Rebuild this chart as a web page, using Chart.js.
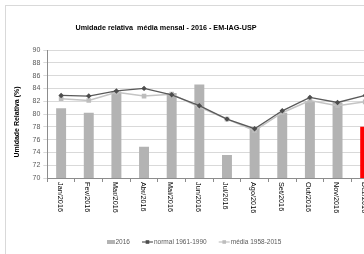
<!DOCTYPE html>
<html lang="pt">
<head>
    <meta charset="UTF-8">
    <title>Umidade relativa</title>
    <script src="https://cdn.jsdelivr.net/npm/chart.js"></script>
    <style>
        body {
            margin: 0;
            overflow: hidden;
            background: #fff;
        }
    </style>
</head>
<body>
    <canvas id="grafico" width="389" height="254"></canvas>

    <script>
        // dados
        const meses = ['Jan/2016', 'Fev/2016', 'Mar/2016', 'Abr/2016', 'Mai/2016', 'Jun/2016',
                       'Jul/2016', 'Ago/2016', 'Set/2016', 'Out/2016', 'Nov/2016', 'Dez/2016'];
        const umidade2016 = [80.9, 80.2, 83.5, 74.9, 83.3, 84.6, 73.6, 77.8, 80.2, 82.0, 81.8, 78.0];
        const normal6190 = [82.9, 82.8, 83.6, 84.0, 83.0, 81.3, 79.2, 77.7, 80.5, 82.6, 81.8, 82.9];
        const media5815 = [82.4, 82.1, 83.4, 82.8, 83.1, 81.1, 79.2, 77.4, 80.2, 82.1, 81.3, 81.9];
        const yTicks = [70, 72, 74, 76, 78, 80, 82, 84, 86, 88, 90];

        const titulo = 'Umidade relativa  média mensal - 2016 - EM-IAG-USP';
        const tituloY = 'Umidade Relativa (%)';
        const fonte = '"Liberation Sans", Arial, sans-serif';

        // cor das barras: dezembro em vermelho
        const coresBarras = meses.map((m, i) => i === meses.length - 1 ? '#ff0000' : '#b3b3b3');

        // borda, títulos, rótulos do eixo x e legenda
        const extras = {
            id: 'extras',
            beforeDraw(chart) {
                const ctx = chart.ctx;
                ctx.save();
                ctx.strokeStyle = '#d9d9d9';
                ctx.lineWidth = 1;
                ctx.strokeRect(5.5, 5.5, 600, 600);
                ctx.restore();
            },
            afterDraw(chart) {
                const ctx = chart.ctx;
                const xs = chart.scales.x;
                const ys = chart.scales.y;
                ctx.save();

                // título
                ctx.fillStyle = '#000';
                ctx.font = 'bold 7.2px ' + fonte;
                ctx.textAlign = 'center';
                ctx.textBaseline = 'middle';
                ctx.fillText(titulo, 166, 28);

                // título do eixo y (um pouco abaixo do centro, como no original)
                ctx.save();
                ctx.font = 'bold 7px ' + fonte;
                ctx.translate(17, (ys.top + ys.bottom) / 2 + 8);
                ctx.rotate(-Math.PI / 2);
                ctx.fillText(tituloY, 0, 0);
                ctx.restore();

                // rótulos do eixo x, girados no sentido horário
                ctx.font = '7.3px ' + fonte;
                ctx.textAlign = 'left';
                meses.forEach((m, i) => {
                    ctx.save();
                    ctx.translate(xs.getPixelForValue(i) - 1.5, xs.top + 4);
                    ctx.rotate(Math.PI / 2);
                    ctx.fillText(m, 0, 0);
                    ctx.restore();
                });

                // legenda
                ctx.font = '6.5px ' + fonte;
                const yLeg = 242;
                let x = 107;
                chart.data.datasets.slice().reverse().forEach(ds => {
                    if (ds.type === 'bar') {
                        ctx.fillStyle = '#b3b3b3';
                        ctx.fillRect(x, yLeg - 2, 8, 4);
                        x += 8.5;
                    } else {
                        ctx.strokeStyle = ds.borderColor;
                        ctx.lineWidth = 1.2;
                        ctx.beginPath();
                        ctx.moveTo(x, yLeg);
                        ctx.lineTo(x + 11, yLeg);
                        ctx.stroke();
                        ctx.fillStyle = ds.pointBackgroundColor;
                        const r = 1.8;
                        ctx.fillRect(x + 5.5 - r, yLeg - r, 2 * r, 2 * r);
                        x += 12;
                    }
                    ctx.fillStyle = '#595959';
                    ctx.fillText(ds.label, x, yLeg);
                    x += ctx.measureText(ds.label).width + 12;
                });
                ctx.restore();
            }
        };

        const ctx = document.getElementById('grafico').getContext('2d');
        new Chart(ctx, {
            data: {
                labels: meses,
                datasets: [
                    {
                        type: 'line',
                        label: 'média 1958-2015',
                        data: media5815,
                        borderColor: '#c4c4c4',
                        borderWidth: 1.5,
                        pointStyle: 'rect',
                        pointRadius: 2.2,
                        pointBackgroundColor: '#bdbdbd',
                        pointBorderColor: '#bdbdbd',
                        order: 2
                    },
                    {
                        type: 'line',
                        label: 'normal 1961-1990',
                        data: normal6190,
                        borderColor: '#595959',
                        borderWidth: 1.3,
                        pointStyle: 'rectRot',
                        pointRadius: 1.8,
                        pointBackgroundColor: '#4d4d4d',
                        pointBorderColor: '#4d4d4d',
                        order: 1
                    },
                    {
                        type: 'bar',
                        label: '2016',
                        data: umidade2016,
                        backgroundColor: coresBarras,
                        barPercentage: 0.36,
                        categoryPercentage: 1,
                        order: 3
                    }
                ]
            },
            options: {
                responsive: false,
                animation: false,
                devicePixelRatio: 1,
                layout: { padding: { left: 8, top: 50, right: 10, bottom: 0 } },
                plugins: {
                    legend: { display: false },
                    tooltip: { enabled: false }
                },
                scales: {
                    x: {
                        offset: true,
                        grid: {
                            offset: true,
                            drawOnChartArea: false,
                            tickLength: 4,
                            color: '#8c8c8c'
                        },
                        border: { color: '#8c8c8c' },
                        ticks: { display: false },
                        afterFit(scale) { scale.height = 76; }
                    },
                    y: {
                        min: 70,
                        max: 90,
                        afterBuildTicks(scale) { scale.ticks = yTicks.map(v => ({ value: v })); },
                        grid: { color: '#d9d9d9', tickLength: 4 },
                        border: { color: '#8c8c8c' },
                        ticks: {
                            font: { family: fonte, size: 7 },
                            color: '#595959',
                            padding: 3
                        },
                        afterFit(scale) { scale.width = 39.3; }
                    }
                }
            },
            plugins: [extras]
        });
    </script>
</body>
</html>
